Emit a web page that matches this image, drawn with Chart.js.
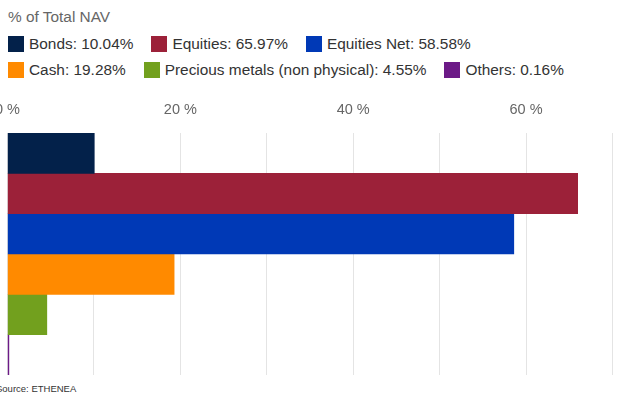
<!DOCTYPE html>
<html>
<head>
<meta charset="utf-8">
<script src="https://cdn.jsdelivr.net/npm/chart.js@4/dist/chart.umd.min.js"></script>
<style>
  html, body { margin: 0; padding: 0; }
  body {
    width: 632px; height: 394px; overflow: hidden; position: relative;
    background: #fff; font-family: "Liberation Sans", Arial, sans-serif;
  }
  #title {
    position: absolute; left: 8px; top: 8px;
    font-size: 15.4px; line-height: 18px; color: #666;
  }
  #legend { position: absolute; left: 8px; top: 35px; width: 624px; }
  .row { display: flex; align-items: center; height: 18px; margin-bottom: 8px; }
  .item { display: flex; align-items: center; margin-right: 18px; font-size: 15.4px; color: #333; white-space: nowrap; }
  .box { width: 16px; height: 16px; margin-right: 5px; }
  #wrap { position: absolute; left: -19px; top: 79px; width: 651px; height: 301px; }
  #source {
    position: absolute; left: -4px; top: 383px;
    font-size: 9.5px; color: #333;
  }
</style>
</head>
<body>
<div id="title">% of Total NAV</div>
<div id="legend"></div>
<div id="wrap"><canvas id="allocChart"></canvas></div>
<div id="source">Source: ETHENEA</div>

<script>
// Asset allocation, % of total NAV
const categories = ["Bonds", "Equities", "Equities Net", "Cash", "Precious metals (non physical)", "Others"];
const shares = [10.04, 65.97, 58.58, 19.28, 4.55, 0.16];
const colours = ["#03214a", "#9c2139", "#0039b6", "#ff8a00", "#72a01e", "#6c1a87"];
const legendRows = [[0, 1, 2], [3, 4, 5]];
const axisMax = 70;
const axisStep = 10;

// Legend (two fixed rows)
const legend = document.getElementById("legend");
legendRows.forEach(row => {
    const rowEl = document.createElement("div");
    rowEl.className = "row";
    row.forEach(i => {
        const item = document.createElement("div");
        item.className = "item";
        const box = document.createElement("span");
        box.className = "box";
        box.style.background = colours[i];
        item.appendChild(box);
        item.appendChild(document.createTextNode(`${categories[i]}: ${shares[i].toFixed(2)}%`));
        rowEl.appendChild(item);
    });
    legend.appendChild(rowEl);
});

// Bars, one dataset per asset class
const datasets = categories.map((name, i) => ({
    label: name,
    data: [shares[i]],
    backgroundColor: colours[i],
    borderWidth: 0,
    barPercentage: 1,
    categoryPercentage: 1
}));

const ctx = document.getElementById("allocChart").getContext("2d");
new Chart(ctx, {
    type: "bar",
    data: { labels: [""], datasets: datasets },
    options: {
        indexAxis: "y",
        responsive: true,
        maintainAspectRatio: false,
        animation: false,
        layout: { padding: { left: 0, right: 19.5, top: 8.6, bottom: 5 } },
        plugins: {
            legend: { display: false },
            tooltip: { enabled: false }
        },
        scales: {
            x: {
                position: "top",
                min: 0,
                max: axisMax,
                border: { display: false },
                grid: { color: "#e4e4e4", lineWidth: 1, drawTicks: false },
                ticks: {
                    stepSize: axisStep,
                    padding: 14,
                    color: "#666",
                    font: { family: "'Liberation Sans', Arial, sans-serif", size: 14.5 },
                    callback: v => (v % 20 === 0 ? v + " %" : "")
                }
            },
            y: { display: false }
        }
    }
});
</script>
</body>
</html>
